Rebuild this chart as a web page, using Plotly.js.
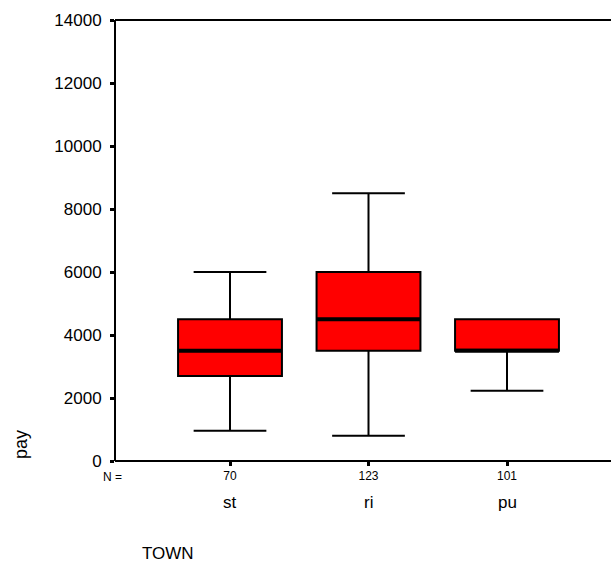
<!DOCTYPE html>
<html>
<head>
<meta charset="utf-8">
<script src="https://cdn.plot.ly/plotly-3.0.1.min.js"></script>
<style>
  html, body { margin: 0; padding: 0; background: #ffffff; overflow: hidden; }
  #chart { width: 611px; height: 563px; }
</style>
</head>
<body>
<div id="chart"></div>
<script>
// Pay by town: box summaries per category
const towns = ['st', 'ri', 'pu'];
const counts = [70, 123, 101];
const lowerWhisker = [960, 800, 2230];
const q1 = [2700, 3500, 3500];
const median = [3500, 4500, 3500];
const q3 = [4500, 6000, 4500];
const upperWhisker = [6000, 8500, 4500];
const yTicks = [0, 2000, 4000, 6000, 8000, 10000, 12000, 14000];

const pos = towns.map((_, i) => i + 1);
const font = 'Liberation Sans, Arial, sans-serif';

const boxes = {
  type: 'box',
  x: pos,
  q1: q1,
  median: median,
  q3: q3,
  lowerfence: lowerWhisker,
  upperfence: upperWhisker,
  width: 0.75,
  whiskerwidth: 0.7,
  fillcolor: '#ff0000',
  line: { color: '#000000', width: 2 },
  boxpoints: false,
  hoverinfo: 'skip',
  showlegend: false
};

// heavier median bar drawn on top of each box
const medians = {
  type: 'box',
  x: pos,
  q1: median,
  median: median,
  q3: median,
  lowerfence: median,
  upperfence: median,
  width: 0.75,
  whiskerwidth: 0,
  fillcolor: 'rgba(0,0,0,0)',
  line: { color: '#000000', width: 4 },
  boxpoints: false,
  hoverinfo: 'skip',
  showlegend: false
};

const W = 611, H = 563;
const plotLeft = 115, plotRight = 611, plotTop = 20, plotBottom = 461;
const plotW = plotRight - plotLeft, plotH = plotBottom - plotTop;
const px = p => (p - plotLeft) / plotW;
const py = p => (plotBottom - p) / plotH;

const annotations = towns.map((t, i) => ({
  x: pos[i], xref: 'x', y: py(502), yref: 'paper',
  text: t, showarrow: false, xanchor: 'center', yanchor: 'middle',
  font: { family: font, size: 17, color: '#000000' }
}));
annotations.push({
  x: px(112), xref: 'paper', y: py(477), yref: 'paper', text: 'N =',
  showarrow: false, xanchor: 'center', yanchor: 'middle',
  font: { family: font, size: 12, color: '#000000' }
});
annotations.push({
  x: px(140), xref: 'paper', y: py(553), yref: 'paper', text: 'TOWN',
  showarrow: false, xanchor: 'left', yanchor: 'middle',
  font: { family: font, size: 17, color: '#000000' }
});
annotations.push({
  x: px(21), xref: 'paper', y: py(445), yref: 'paper', text: 'pay',
  textangle: -90, showarrow: false, xanchor: 'center', yanchor: 'middle',
  font: { family: font, size: 18, color: '#000000' }
});

// position 1 sits at x=230, categories 138.5 px apart
const step = 138.5;
const xMin = 1 - (230 - plotLeft) / step;
const xMax = 1 + (plotRight - 230) / step;

const frame = { color: '#000000', width: 2 };

const layout = {
  width: W, height: H,
  margin: { l: plotLeft, r: W - plotRight, t: plotTop, b: H - plotBottom, pad: 0 },
  paper_bgcolor: '#ffffff', plot_bgcolor: '#ffffff',
  boxmode: 'overlay',
  showlegend: false,
  font: { family: font, color: '#000000' },
  xaxis: {
    range: [xMin, xMax],
    tickmode: 'array', tickvals: pos, ticktext: counts.map(String),
    ticks: 'outside', ticklen: 4, tickwidth: 3, tickcolor: '#000000',
    tickfont: { family: font, size: 12, color: '#000000' },
    showline: false,
    showgrid: false, zeroline: false, fixedrange: true
  },
  yaxis: {
    range: [0, 14000],
    tickmode: 'array', tickvals: yTicks, ticktext: yTicks.map(String),
    ticks: 'outside', ticklen: 4, tickwidth: 3, tickcolor: '#000000',
    ticklabelstandoff: 5,
    tickfont: { family: font, size: 17, color: '#000000' },
    showline: false,
    showgrid: false, zeroline: false, fixedrange: true
  },
  // open frame: left, top and bottom edges
  shapes: [
    { type: 'line', xref: 'paper', yref: 'paper', x0: 0, x1: 0, y0: 0, y1: 1, line: frame },
    { type: 'line', xref: 'paper', yref: 'paper', x0: 0, x1: 1, y0: 1, y1: 1, line: frame },
    { type: 'line', xref: 'paper', yref: 'paper', x0: 0, x1: 1, y0: 0, y1: 0, line: frame }
  ],
  annotations: annotations
};

Plotly.newPlot('chart', [boxes, medians], layout, { displayModeBar: false, staticPlot: true });
</script>
</body>
</html>
